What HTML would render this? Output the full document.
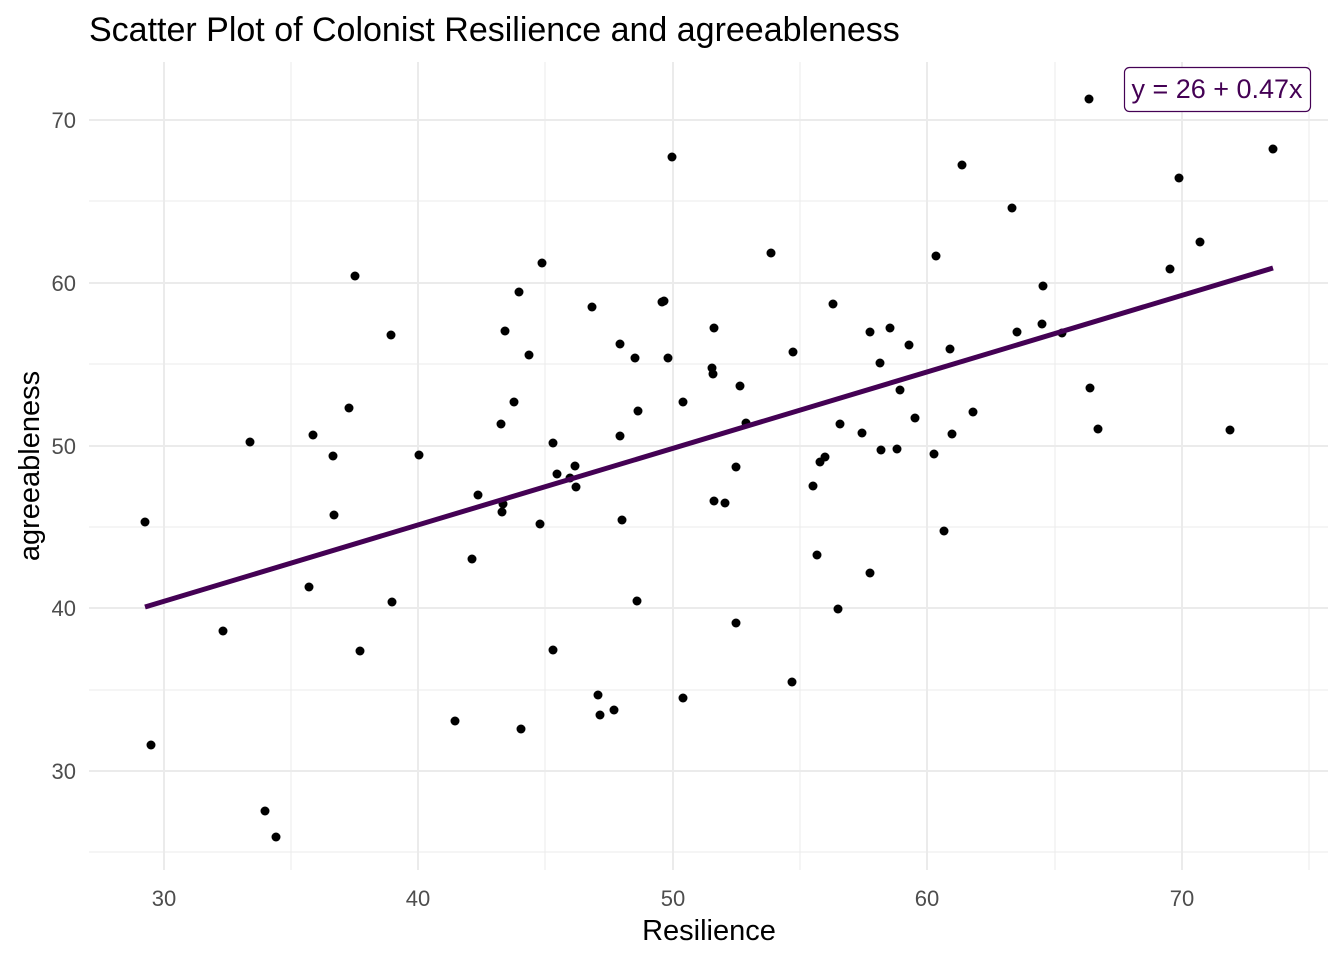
<!DOCTYPE html>
<html><head><meta charset="utf-8"><style>
body{margin:0;background:#fff}
svg{display:block;font-family:"Liberation Sans",Arial,sans-serif}
</style></head><body>
<svg width="1344" height="960" xmlns="http://www.w3.org/2000/svg">
<rect width="1344" height="960" fill="#fff"/>
<g stroke="#ebebeb" stroke-width="1">
<line x1="89" x2="1328" y1="201" y2="201"/><line x1="89" x2="1328" y1="364" y2="364"/>
<line x1="89" x2="1328" y1="527" y2="527"/><line x1="89" x2="1328" y1="690" y2="690"/>
<line x1="89" x2="1328" y1="852" y2="852"/>
<line y1="62" y2="870" x1="291" x2="291"/><line y1="62" y2="870" x1="545" x2="545"/>
<line y1="62" y2="870" x1="800" x2="800"/><line y1="62" y2="870" x1="1055" x2="1055"/>
<line y1="62" y2="870" x1="1309" x2="1309"/>
</g>
<g stroke="#ebebeb" stroke-width="2">
<line x1="89" x2="1328" y1="120" y2="120"/><line x1="89" x2="1328" y1="283" y2="283"/>
<line x1="89" x2="1328" y1="446" y2="446"/><line x1="89" x2="1328" y1="608" y2="608"/>
<line x1="89" x2="1328" y1="771" y2="771"/>
<line y1="62" y2="870" x1="164" x2="164"/><line y1="62" y2="870" x1="418" x2="418"/>
<line y1="62" y2="870" x1="673" x2="673"/><line y1="62" y2="870" x1="927" x2="927"/>
<line y1="62" y2="870" x1="1182" x2="1182"/>
</g>
<g font-size="22" fill="#4d4d4d" text-anchor="end">
<text x="76" y="128">70</text><text x="76" y="291">60</text><text x="76" y="454">50</text>
<text x="76" y="616">40</text><text x="76" y="779">30</text>
</g>
<g font-size="22" fill="#4d4d4d" text-anchor="middle">
<text x="164" y="906">30</text><text x="418" y="906">40</text><text x="673" y="906">50</text>
<text x="927" y="906">60</text><text x="1182" y="906">70</text>
</g>
<text x="709" y="940" font-size="29" text-anchor="middle">Resilience</text>
<text transform="translate(39,466) rotate(-90)" font-size="29" text-anchor="middle">agreeableness</text>
<text x="89" y="41" font-size="34">Scatter Plot of Colonist Resilience and agreeableness</text>
<g fill="#000">
<circle cx="145" cy="522" r="4.5"/><circle cx="151" cy="745" r="4.5"/><circle cx="223" cy="631" r="4.5"/><circle cx="250" cy="442" r="4.5"/><circle cx="265" cy="811" r="4.5"/><circle cx="276" cy="837" r="4.5"/><circle cx="309" cy="587" r="4.5"/><circle cx="313" cy="435" r="4.5"/><circle cx="333" cy="456" r="4.5"/><circle cx="334" cy="515" r="4.5"/><circle cx="349" cy="408" r="4.5"/><circle cx="355" cy="276" r="4.5"/><circle cx="360" cy="651" r="4.5"/><circle cx="391" cy="335" r="4.5"/><circle cx="392" cy="602" r="4.5"/><circle cx="419" cy="455" r="4.5"/><circle cx="455" cy="721" r="4.5"/><circle cx="472" cy="559" r="4.5"/><circle cx="478" cy="495" r="4.5"/><circle cx="501" cy="424" r="4.5"/><circle cx="502" cy="512" r="4.5"/><circle cx="503" cy="504" r="4.5"/><circle cx="505" cy="331" r="4.5"/><circle cx="514" cy="402" r="4.5"/><circle cx="521" cy="729" r="4.5"/><circle cx="519" cy="292" r="4.5"/><circle cx="529" cy="355" r="4.5"/><circle cx="540" cy="524" r="4.5"/><circle cx="542" cy="263" r="4.5"/><circle cx="553" cy="443" r="4.5"/><circle cx="553" cy="650" r="4.5"/><circle cx="557" cy="474" r="4.5"/><circle cx="570" cy="478" r="4.5"/><circle cx="575" cy="466" r="4.5"/><circle cx="576" cy="487" r="4.5"/><circle cx="592" cy="307" r="4.5"/><circle cx="598" cy="695" r="4.5"/><circle cx="600" cy="715" r="4.5"/><circle cx="614" cy="710" r="4.5"/><circle cx="620" cy="344" r="4.5"/><circle cx="620" cy="436" r="4.5"/><circle cx="622" cy="520" r="4.5"/><circle cx="635" cy="358" r="4.5"/><circle cx="638" cy="411" r="4.5"/><circle cx="637" cy="601" r="4.5"/><circle cx="662" cy="302" r="4.5"/><circle cx="664" cy="301" r="4.5"/><circle cx="668" cy="358" r="4.5"/><circle cx="672" cy="157" r="4.5"/><circle cx="683" cy="402" r="4.5"/><circle cx="683" cy="698" r="4.5"/><circle cx="712" cy="368" r="4.5"/><circle cx="713" cy="374" r="4.5"/><circle cx="714" cy="328" r="4.5"/><circle cx="714" cy="501" r="4.5"/><circle cx="725" cy="503" r="4.5"/><circle cx="736" cy="623" r="4.5"/><circle cx="736" cy="467" r="4.5"/><circle cx="740" cy="386" r="4.5"/><circle cx="746" cy="423" r="4.5"/><circle cx="771" cy="253" r="4.5"/><circle cx="792" cy="682" r="4.5"/><circle cx="793" cy="352" r="4.5"/><circle cx="813" cy="486" r="4.5"/><circle cx="817" cy="555" r="4.5"/><circle cx="820" cy="462" r="4.5"/><circle cx="825" cy="457" r="4.5"/><circle cx="833" cy="304" r="4.5"/><circle cx="838" cy="609" r="4.5"/><circle cx="840" cy="424" r="4.5"/><circle cx="862" cy="433" r="4.5"/><circle cx="870" cy="332" r="4.5"/><circle cx="870" cy="573" r="4.5"/><circle cx="880" cy="363" r="4.5"/><circle cx="881" cy="450" r="4.5"/><circle cx="890" cy="328" r="4.5"/><circle cx="897" cy="449" r="4.5"/><circle cx="900" cy="390" r="4.5"/><circle cx="909" cy="345" r="4.5"/><circle cx="915" cy="418" r="4.5"/><circle cx="934" cy="454" r="4.5"/><circle cx="936" cy="256" r="4.5"/><circle cx="944" cy="531" r="4.5"/><circle cx="950" cy="349" r="4.5"/><circle cx="952" cy="434" r="4.5"/><circle cx="962" cy="165" r="4.5"/><circle cx="973" cy="412" r="4.5"/><circle cx="1012" cy="208" r="4.5"/><circle cx="1017" cy="332" r="4.5"/><circle cx="1042" cy="324" r="4.5"/><circle cx="1043" cy="286" r="4.5"/><circle cx="1062" cy="333" r="4.5"/><circle cx="1089" cy="99" r="4.5"/><circle cx="1090" cy="388" r="4.5"/><circle cx="1098" cy="429" r="4.5"/><circle cx="1170" cy="269" r="4.5"/><circle cx="1179" cy="178" r="4.5"/><circle cx="1200" cy="242" r="4.5"/><circle cx="1230" cy="430" r="4.5"/><circle cx="1273" cy="149" r="4.5"/>
</g>
<line x1="145" y1="607" x2="1273" y2="268" stroke="#440154" stroke-width="5"/>
<rect x="1124.5" y="67.5" width="186" height="44" rx="5" fill="#fff" stroke="#440154" stroke-width="1.2"/>
<text x="1217" y="98" font-size="27" fill="#440154" text-anchor="middle">y = 26 + 0.47x</text>
</svg>
</body></html>
